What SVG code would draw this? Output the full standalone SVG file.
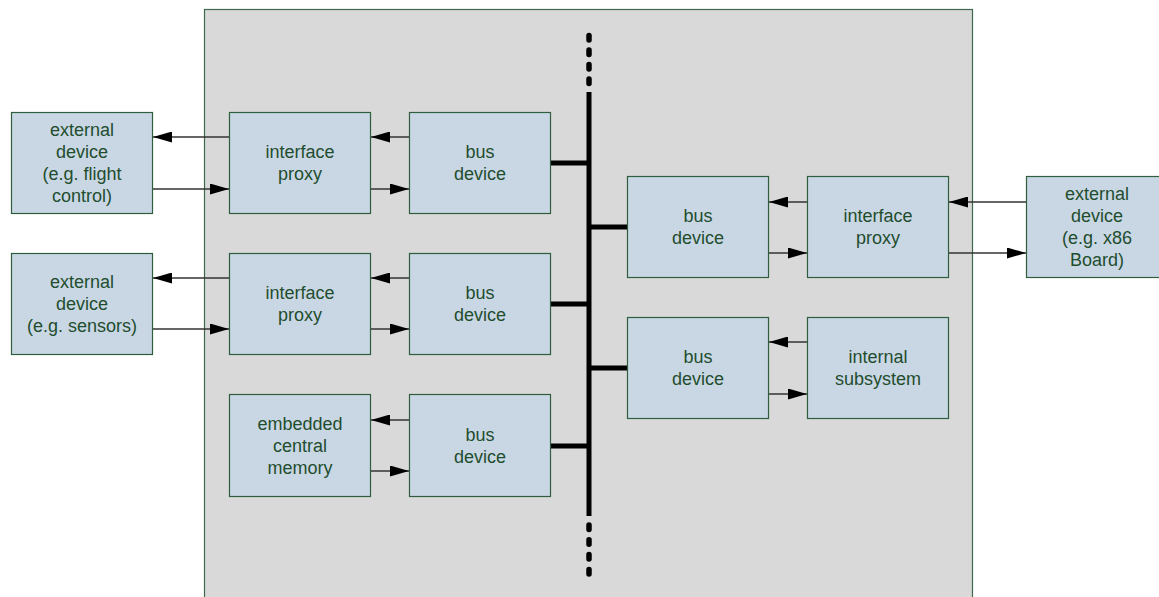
<svg xmlns="http://www.w3.org/2000/svg" width="1159" height="597" viewBox="0 0 1159 597">
<style>
.box{fill:#c9d7e5;stroke:#2f5e3f;stroke-width:1.2}
.t{font-family:"Liberation Sans",Arial,sans-serif;font-size:18px;fill:#1f4d2e;text-anchor:middle}
.a{stroke:#333;stroke-width:1.4;fill:none;marker-end:url(#ah)}
.bus{stroke:#000;stroke-width:5;fill:none}
.dots{stroke:#000;stroke-width:5.5;stroke-linecap:round;fill:none}
</style>
<defs>
<marker id="ah" markerUnits="userSpaceOnUse" markerWidth="19" markerHeight="11" viewBox="0 0 19 11" refX="19" refY="5.5" orient="auto">
<path d="M0,0 L19,5.5 L0,11 z" fill="#000"/>
</marker>
</defs>
<rect id="panel" x="204.5" y="9.5" width="768" height="600" fill="#d9d9d9" stroke="#3d6a4e" stroke-width="1.2"/>
<g id="connectors">
<line class="a" x1="229" y1="137" x2="153" y2="137"/>
<line class="a" x1="153" y1="189" x2="229" y2="189"/>
<line class="a" x1="409" y1="137" x2="371" y2="137"/>
<line class="a" x1="371" y1="189" x2="409" y2="189"/>
<line class="a" x1="229" y1="278" x2="153" y2="278"/>
<line class="a" x1="153" y1="329" x2="229" y2="329"/>
<line class="a" x1="409" y1="278" x2="371" y2="278"/>
<line class="a" x1="371" y1="329" x2="409" y2="329"/>
<line class="a" x1="409" y1="420" x2="371" y2="420"/>
<line class="a" x1="371" y1="471" x2="409" y2="471"/>
<line class="a" x1="807" y1="202" x2="769" y2="202"/>
<line class="a" x1="769" y1="253" x2="807" y2="253"/>
<line class="a" x1="1026" y1="202" x2="949" y2="202"/>
<line class="a" x1="949" y1="253" x2="1026" y2="253"/>
<line class="a" x1="807" y1="342" x2="769" y2="342"/>
<line class="a" x1="769" y1="394" x2="807" y2="394"/>
<line class="bus" x1="589" y1="92" x2="589" y2="516"/>
<line class="dots" x1="589" y1="35.5" x2="589" y2="86" stroke-dasharray="4.5 10"/>
<line class="dots" x1="589" y1="525" x2="589" y2="576" stroke-dasharray="4.5 10.3"/>
<line class="bus" x1="551" y1="163" x2="589" y2="163"/>
<line class="bus" x1="551" y1="304" x2="589" y2="304"/>
<line class="bus" x1="551" y1="446" x2="589" y2="446"/>
<line class="bus" x1="589" y1="227" x2="627" y2="227"/>
<line class="bus" x1="589" y1="368" x2="627" y2="368"/>
</g>
<g id="ext1"><rect class="box" x="11.5" y="112.5" width="141" height="101"/>
<text class="t" x="82" y="136">external</text><text class="t" x="82" y="158">device</text><text class="t" x="82" y="180">(e.g. flight</text><text class="t" x="82" y="202">control)</text></g>
<g id="proxy1"><rect class="box" x="229.5" y="112.5" width="141" height="101"/>
<text class="t" x="300" y="158">interface</text><text class="t" x="300" y="180">proxy</text></g>
<g id="bus1"><rect class="box" x="409.5" y="112.5" width="141" height="101"/>
<text class="t" x="480" y="158">bus</text><text class="t" x="480" y="180">device</text></g>
<g id="ext2"><rect class="box" x="11.5" y="253.5" width="141" height="101"/>
<text class="t" x="82" y="288">external</text><text class="t" x="82" y="310">device</text><text class="t" x="82" y="332">(e.g. sensors)</text></g>
<g id="proxy2"><rect class="box" x="229.5" y="253.5" width="141" height="101"/>
<text class="t" x="300" y="299">interface</text><text class="t" x="300" y="321">proxy</text></g>
<g id="bus2"><rect class="box" x="409.5" y="253.5" width="141" height="101"/>
<text class="t" x="480" y="299">bus</text><text class="t" x="480" y="321">device</text></g>
<g id="memory"><rect class="box" x="229.5" y="394.5" width="141" height="102"/>
<text class="t" x="300" y="430">embedded</text><text class="t" x="300" y="452">central</text><text class="t" x="300" y="474">memory</text></g>
<g id="bus3"><rect class="box" x="409.5" y="394.5" width="141" height="102"/>
<text class="t" x="480" y="441">bus</text><text class="t" x="480" y="463">device</text></g>
<g id="bus4"><rect class="box" x="627.5" y="176.5" width="141" height="101"/>
<text class="t" x="698" y="222">bus</text><text class="t" x="698" y="244">device</text></g>
<g id="proxy3"><rect class="box" x="807.5" y="176.5" width="141" height="101"/>
<text class="t" x="878" y="222">interface</text><text class="t" x="878" y="244">proxy</text></g>
<g id="ext3"><rect class="box" x="1026.5" y="176.5" width="141" height="101"/>
<text class="t" x="1097" y="200">external</text><text class="t" x="1097" y="222">device</text><text class="t" x="1097" y="244">(e.g. x86</text><text class="t" x="1097" y="266">Board)</text></g>
<g id="bus5"><rect class="box" x="627.5" y="317.5" width="141" height="101"/>
<text class="t" x="698" y="363">bus</text><text class="t" x="698" y="385">device</text></g>
<g id="internal"><rect class="box" x="807.5" y="317.5" width="141" height="101"/>
<text class="t" x="878" y="363">internal</text><text class="t" x="878" y="385">subsystem</text></g>
</svg>
